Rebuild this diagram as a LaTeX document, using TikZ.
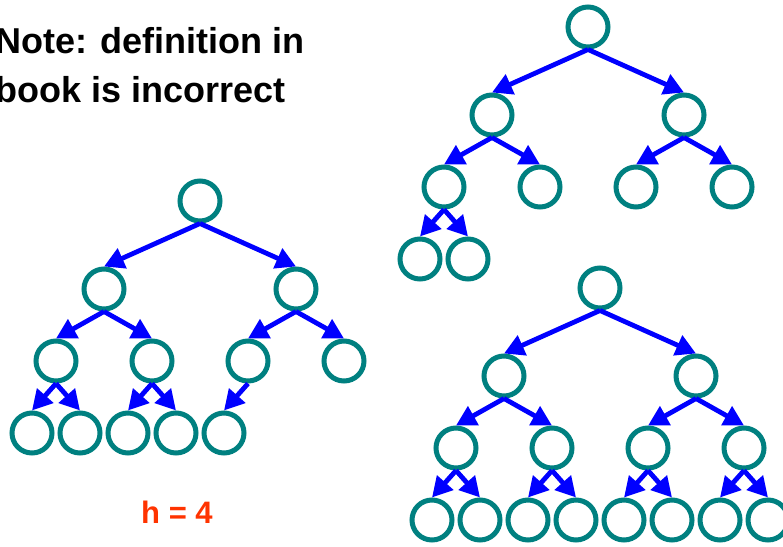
\documentclass[tikz,border=0pt]{standalone}
\usepackage{fontspec}
\setmainfont{Liberation Sans}
\usepackage{xcolor}
\usetikzlibrary{
    arrows.meta,
    positioning
}
\definecolor{ringteal}{RGB}{0,128,128}
\definecolor{hred}{RGB}{255,51,0}

\begin{document}
\begin{tikzpicture}[
x=1pt,
y=-1pt,
on grid,
heap/.style={
draw=ringteal,
circle,
line width=5pt,
minimum size=40pt,
inner sep=0pt
},
link/.style={
-{Triangle[length=20pt,width=21pt]},
blue,
line width=4.8pt
}
]

\useasboundingbox (0,0) rectangle (783,546);

\node[anchor=north west, align=left, inner sep=0pt,
font=\fontsize{36}{49.4}\selectfont\bfseries] (note) at (-5,27)
{Note: definition in\\book is incorrect};

% left tree
\node[heap] (a) at (200,201) {};
\node[heap, below left=88pt and 96pt of a] (al) {};
\node[heap, below right=88pt and 96pt of a] (ar) {};
\node[heap, below left=72pt and 48pt of al] (all) {};
\node[heap, below right=72pt and 48pt of al] (alr) {};
\node[heap, below left=72pt and 48pt of ar] (arl) {};
\node[heap, below right=72pt and 48pt of ar] (arr) {};
\node[heap, below left=72pt and 24pt of all] (alll) {};
\node[heap, below right=72pt and 24pt of all] (allr) {};
\node[heap, below left=72pt and 24pt of alr] (alrl) {};
\node[heap, below right=72pt and 24pt of alr] (alrr) {};
\node[heap, below left=72pt and 24pt of arl] (arll) {};

\node[anchor=base, text=hred,
font=\fontsize{31}{36}\selectfont\bfseries] (height) at (177,523)
{h = 4};

% top right tree
\node[heap] (b) at (588,27) {};
\node[heap, below left=88pt and 96pt of b] (bl) {};
\node[heap, below right=88pt and 96pt of b] (br) {};
\node[heap, below left=72pt and 48pt of bl] (bll) {};
\node[heap, below right=72pt and 48pt of bl] (blr) {};
\node[heap, below left=72pt and 48pt of br] (brl) {};
\node[heap, below right=72pt and 48pt of br] (brr) {};
\node[heap, below left=72pt and 24pt of bll] (blll) {};
\node[heap, below right=72pt and 24pt of bll] (bllr) {};

% bottom right tree
\node[heap] (c) at (600,288) {};
\node[heap, below left=88pt and 96pt of c] (cl) {};
\node[heap, below right=88pt and 96pt of c] (cr) {};
\node[heap, below left=72pt and 48pt of cl] (cll) {};
\node[heap, below right=72pt and 48pt of cl] (clr) {};
\node[heap, below left=72pt and 48pt of cr] (crl) {};
\node[heap, below right=72pt and 48pt of cr] (crr) {};
\node[heap, below left=72pt and 24pt of cll] (clll) {};
\node[heap, below right=72pt and 24pt of cll] (cllr) {};
\node[heap, below left=72pt and 24pt of clr] (clrl) {};
\node[heap, below right=72pt and 24pt of clr] (clrr) {};
\node[heap, below left=72pt and 24pt of crl] (crll) {};
\node[heap, below right=72pt and 24pt of crl] (crlr) {};
\node[heap, below left=72pt and 24pt of crr] (crrl) {};
\node[heap, below right=72pt and 24pt of crr] (crrr) {};

% arrows
\draw[link] (a.south) -- (al.north);
\draw[link] (a.south) -- (ar.north);
\draw[link] (al.south) -- (all.north);
\draw[link] (al.south) -- (alr.north);
\draw[link] (ar.south) -- (arl.north);
\draw[link] (ar.south) -- (arr.north);
\draw[link] (all.south) -- (alll.north);
\draw[link] (all.south) -- (allr.north);
\draw[link] (alr.south) -- (alrl.north);
\draw[link] (alr.south) -- (alrr.north);
\draw[link] (arl.south) -- (arll.north);

\draw[link] (b.south) -- (bl.north);
\draw[link] (b.south) -- (br.north);
\draw[link] (bl.south) -- (bll.north);
\draw[link] (bl.south) -- (blr.north);
\draw[link] (br.south) -- (brl.north);
\draw[link] (br.south) -- (brr.north);
\draw[link] (bll.south) -- (blll.north);
\draw[link] (bll.south) -- (bllr.north);

\draw[link] (c.south) -- (cl.north);
\draw[link] (c.south) -- (cr.north);
\draw[link] (cl.south) -- (cll.north);
\draw[link] (cl.south) -- (clr.north);
\draw[link] (cr.south) -- (crl.north);
\draw[link] (cr.south) -- (crr.north);
\draw[link] (cll.south) -- (clll.north);
\draw[link] (cll.south) -- (cllr.north);
\draw[link] (clr.south) -- (clrl.north);
\draw[link] (clr.south) -- (clrr.north);
\draw[link] (crl.south) -- (crll.north);
\draw[link] (crl.south) -- (crlr.north);
\draw[link] (crr.south) -- (crrl.north);
\draw[link] (crr.south) -- (crrr.north);

\end{tikzpicture}
\end{document}
